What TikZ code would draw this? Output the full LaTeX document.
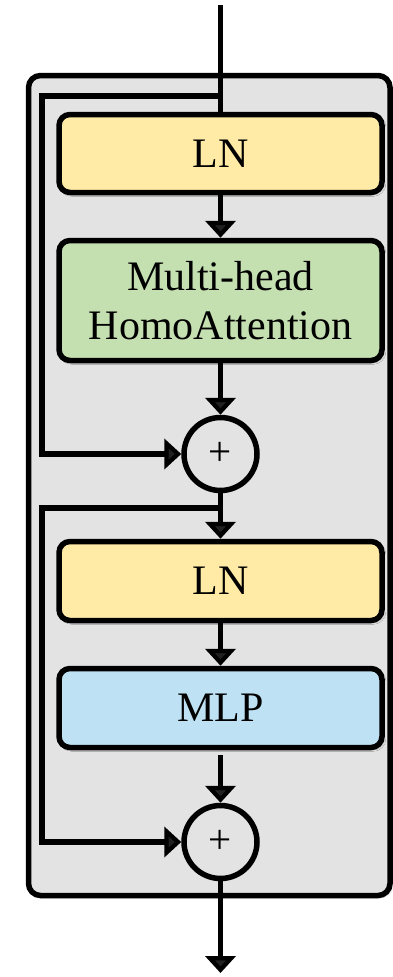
\documentclass[tikz,border=0pt]{standalone}
\usepackage{fontspec}
\setmainfont{Liberation Serif}
\usetikzlibrary{arrows.meta,shadows.blur}
\definecolor{panelgray}{HTML}{E3E3E3}
\definecolor{lnyellow}{HTML}{FFEBA6}
\definecolor{attgreen}{HTML}{C5E0B0}
\definecolor{mlpblue}{HTML}{BEE2F4}
\tikzset{
  softshadow/.style={blur shadow={shadow xshift=2pt,shadow yshift=-2pt,shadow blur steps=6,shadow opacity=25}},
  blockbox/.style={draw=black,line width=5.5pt,rounded corners=11pt,minimum width=323pt,
    align=center,inner sep=0pt,font=\fontsize{42}{49}\selectfont,softshadow},
  addnode/.style={draw=black,line width=5.5pt,circle,minimum size=73pt,inner sep=0pt,
    fill=panelgray,font=\fontsize{41}{41}\selectfont},
  flow/.style={line width=5.5pt,-{Triangle[width=30pt,length=17pt]}},
  wire/.style={line width=5.5pt}
}
\begin{document}
\begin{tikzpicture}[x=1pt,y=-1pt]
\useasboundingbox (0,0) rectangle (393,977);
% enclosing panel
\draw[line width=5.5pt,fill=panelgray,rounded corners=12pt,softshadow] (28.5,75.5) rectangle (390,895.5);

% blocks
\node[blockbox,fill=lnyellow,minimum height=78pt] (ln1) at (220.5,153.5) {LN};
\node[blockbox,fill=attgreen,minimum height=120pt] (att) at (220.5,300.5) {Multi-head\\HomoAttention};
\node[addnode] (add1) at (220.5,454) {+};
\node[blockbox,fill=lnyellow,minimum height=79pt] (ln2) at (220.5,581) {LN};
\node[blockbox,fill=mlpblue,minimum height=79pt] (mlp) at (220.5,708) {MLP};
\node[addnode] (add2) at (220.5,842) {+};

% input, branch points and output
\coordinate (in) at (220.5,5);
\coordinate (out) at (220.5,973);
\coordinate (b1) at (220.5,96);
\coordinate (s1) at (42,96);
\coordinate (b2) at (220.5,508);
\coordinate (s2) at (42,508);

% main path
\draw[wire] (in) -- (ln1.north);
\draw[flow] (ln1.south) -- (att.north);
\draw[flow] (att.south) -- (add1.north);
\draw[flow] (add1.south) -- (ln2.north);
\draw[flow] (ln2.south) -- (mlp.north);
\draw[flow,shorten <=5pt] (mlp.south) -- (add2.north);
\draw[flow] (add2.south) -- (out);

% residual connections
\draw[flow] (b1) -- (s1) |- (add1.west);
\draw[flow] (b2) -- (s2) |- (add2.west);
\end{tikzpicture}
\end{document}
